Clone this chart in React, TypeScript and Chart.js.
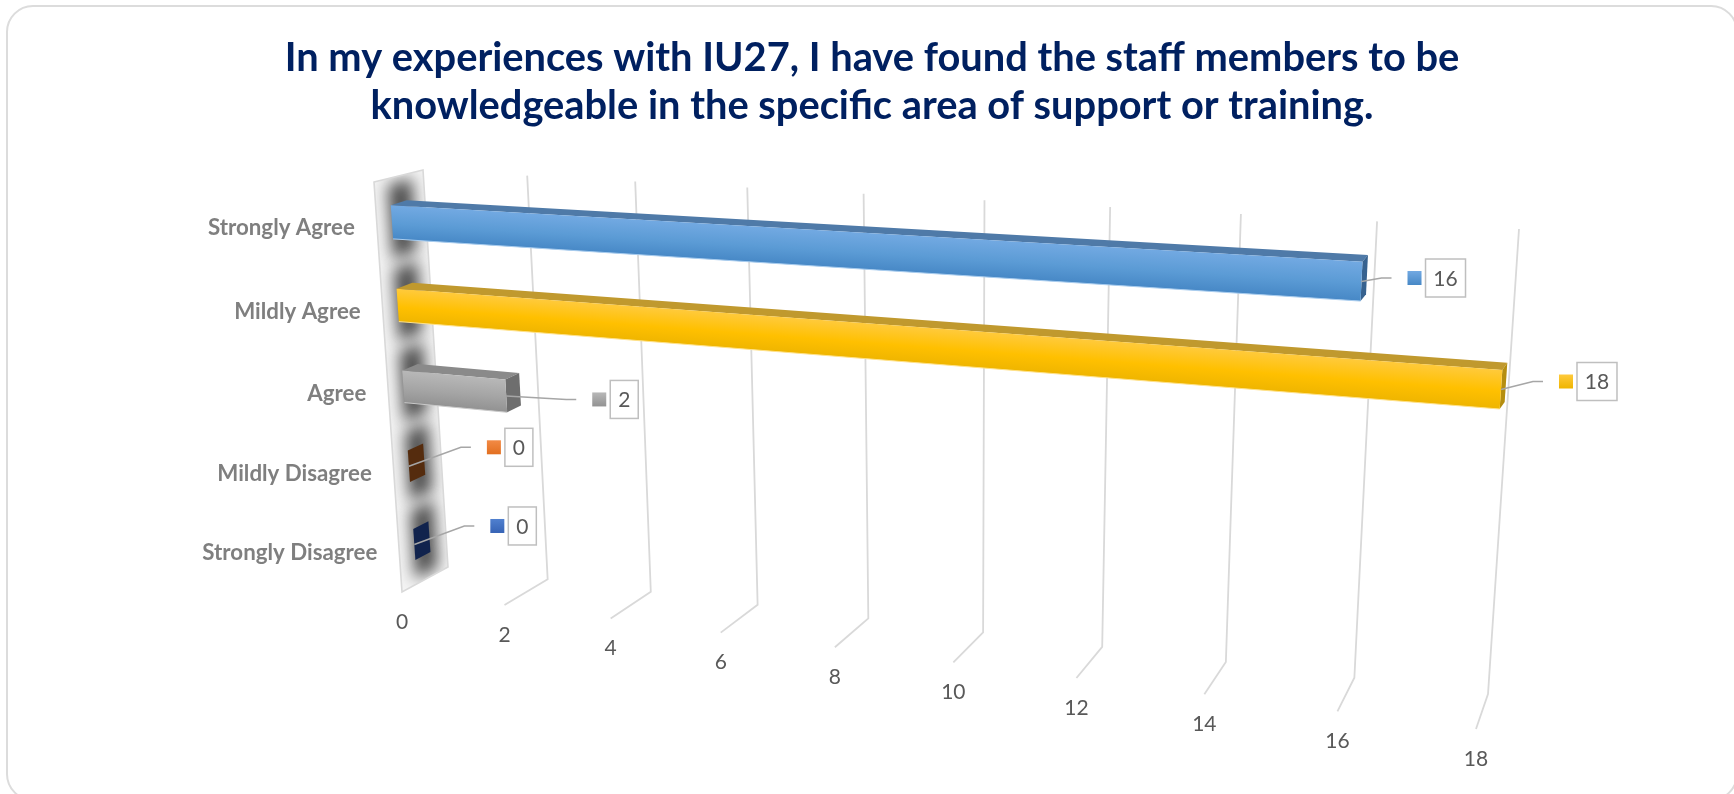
import React, { useEffect, useRef } from "react";
import { Chart, registerables } from "chart.js";

Chart.register(...registerables);

const titleLines = [
  "In my experiences with IU27, I have found the staff members to be",
  "knowledgeable in the specific area of support or training.",
];
const categories = ["Strongly Agree", "Mildly Agree", "Agree", "Mildly Disagree", "Strongly Disagree"];
const values = [16, 18, 2, 0, 0];
const seriesColors = ["#5B9BD5", "#FFC000", "#A5A5A5", "#ED7D31", "#4472C4"];
const frontTop = ["#72a9e2", "#ffca3c", "#b8b8b8", "#F28A45", "#5080CF"];
const frontBottom = ["#4788c6", "#efb500", "#929292", "#E26F20", "#3663B5"];
const edgeLights = ["#a9cdef", "#ffe28a", "#c9c9c9", "#ED7D31", "#4472C4"];
const topFaces = ["#4f7aa8", "#c0992e", "#8a8a8a", "#5a2f10", "#13254f"];
const endFaces = ["#37628f", "#b58e10", "#6e6e6e", "#552c0e", "#11234d"];
const labelOffsets = [[30, -3.5], [42, -8], [70, 3.5], [62, -19], [60, -18.5]];
const axisMax = 18;
const axisStep = 2;

type P = [number, number];
function homography(c: P[]) {
  const [[x0, y0], [x1, y1], [x2, y2], [x3, y3]] = c;
  const dx1 = x1 - x2, dx2 = x3 - x2, sx = x0 - x1 + x2 - x3;
  const dy1 = y1 - y2, dy2 = y3 - y2, sy = y0 - y1 + y2 - y3;
  const den = dx1 * dy2 - dx2 * dy1;
  const g = (sx * dy2 - dx2 * sy) / den;
  const h = (dx1 * sy - sx * dy1) / den;
  const a = x1 - x0 + g * x1, b = x3 - x0 + h * x3;
  const d = y1 - y0 + g * y1, e = y3 - y0 + h * y3;
  return (u: number, v: number): P => {
    const w = g * u + h * v + 1;
    return [(a * u + b * v + x0) / w, (d * u + e * v + y0) / w];
  };
}

// camera: where the corners of the plot box land on the page
const boxFront = homography([[374, 182], [1509, 247], [1476, 729], [402, 592]]);
const boxBack = homography([[423, 170], [1519, 229], [1488, 694], [448, 567]]);
const barFront = homography([[389, 180], [1511, 240], [1479, 718], [417, 583]]);
const barBack = homography([[405, 175], [1516, 233], [1484, 711], [432, 575]]);

function poly(ctx: CanvasRenderingContext2D, pts: P[]) {
  ctx.beginPath();
  pts.forEach((p, i) => (i ? ctx.lineTo(p[0], p[1]) : ctx.moveTo(p[0], p[1])));
  ctx.closePath();
}
const mix = (a: P, b: P, t: number): P => [a[0] + (b[0] - a[0]) * t, a[1] + (b[1] - a[1]) * t];

const perspective = {
  id: "perspective",
  beforeDraw(chart: any) {
    const ctx: CanvasRenderingContext2D = chart.ctx;
    ctx.save();
    ctx.beginPath();
    ctx.roundRect(7, 6, 1730, 794, 26);
    ctx.fillStyle = "#ffffff";
    ctx.fill();
    ctx.lineWidth = 2;
    ctx.strokeStyle = "#dcdcdc";
    ctx.stroke();
    ctx.restore();
  },
  beforeDatasetsDraw(chart: any) {
    const ctx: CanvasRenderingContext2D = chart.ctx;
    const area = chart.chartArea;
    const xs = chart.scales.x, ys = chart.scales.y;
    const U = (px: number) => (px - area.left) / (area.right - area.left);
    const V = (py: number) => (py - area.top) / (area.bottom - area.top);
    ctx.save();

    const meta = chart.getDatasetMeta(0);
    const bars = meta.data.map((el: any) => {
      const p = el.getProps(["x", "y", "base", "height"], true);
      return { u0: U(p.base), u1: U(p.x), v0: V(p.y - p.height / 2), v1: V(p.y + p.height / 2), vc: V(p.y) };
    });

    // wall at zero
    const wall: P[] = [boxFront(0, 0), boxBack(0, 0), boxBack(0, 1), boxFront(0, 1)];
    poly(ctx, wall);
    ctx.fillStyle = "#f4f4f4";
    ctx.fill();
    ctx.save();
    poly(ctx, wall);
    ctx.clip();
    ctx.filter = "blur(8px)";
    ctx.fillStyle = "#4a4a4a";
    bars.forEach((b: any) => {
      const pad = (b.v1 - b.v0) * 0.6;
      const t0 = b.v0 - pad, t1 = b.v1 + pad;
      poly(ctx, [
        mix(barFront(0, t0), barBack(0, t0), -0.1),
        mix(barFront(0, t0), barBack(0, t0), 1.4),
        mix(barFront(0, t1), barBack(0, t1), 1.4),
        mix(barFront(0, t1), barBack(0, t1), -0.1),
      ]);
      ctx.fill();
    });
    ctx.restore();
    poly(ctx, wall);
    ctx.lineWidth = 1.6;
    ctx.strokeStyle = "#d9d9d9";
    ctx.stroke();

    // grid lines and tick labels, from the value scale
    ctx.font = "21px Lato";
    ctx.textAlign = "center";
    ctx.textBaseline = "middle";
    xs.ticks.forEach((t: any) => {
      const u = U(xs.getPixelForValue(t.value));
      const foot = boxFront(u, 1);
      if (t.value !== 0) {
        const a = boxBack(u, 0), b = boxBack(u, 1);
        ctx.beginPath();
        ctx.moveTo(a[0], a[1]);
        ctx.lineTo(b[0], b[1]);
        ctx.lineTo(foot[0], foot[1]);
        ctx.lineWidth = 1.8;
        ctx.strokeStyle = "#d9d9d9";
        ctx.stroke();
      }
      ctx.fillStyle = "#595959";
      ctx.fillText(String(t.value), foot[0], foot[1] + 30);
    });

    // bars
    bars.forEach((b: any, i: number) => {
      if (b.u1 > b.u0) {
        poly(ctx, [barFront(b.u0, b.v0), barBack(b.u0, b.v0), barBack(b.u1, b.v0), barFront(b.u1, b.v0)]);
        ctx.fillStyle = topFaces[i];
        ctx.fill();
      }
      poly(ctx, [barFront(b.u1, b.v0), barBack(b.u1, b.v0), barBack(b.u1, b.v1), barFront(b.u1, b.v1)]);
      ctx.fillStyle = endFaces[i];
      ctx.fill();
      if (b.u1 > b.u0) {
        const tl = barFront(b.u0, b.v0), tr = barFront(b.u1, b.v0);
        const br = barFront(b.u1, b.v1), bl = barFront(b.u0, b.v1);
        ctx.save();
        poly(ctx, [tl, tr, br, bl]);
        ctx.clip();
        const left = Math.floor(Math.min(tl[0], bl[0])) - 1;
        const right = Math.ceil(Math.max(tr[0], br[0])) + 1;
        const column = 3;
        for (let x = left; x < right; x += column) {
          const s = (x + column / 2 - left) / (right - left);
          const yt = tl[1] + (tr[1] - tl[1]) * s;
          const yb = bl[1] + (br[1] - bl[1]) * s;
          const g = ctx.createLinearGradient(0, yt, 0, yb);
          g.addColorStop(0, frontTop[i]);
          g.addColorStop(0.55, seriesColors[i]);
          g.addColorStop(1, frontBottom[i]);
          ctx.fillStyle = g;
          ctx.fillRect(x, Math.floor(yt) - 3, column, Math.ceil(yb - yt) + 6);
        }
        ctx.restore();
        ctx.beginPath();
        ctx.moveTo(bl[0], bl[1]);
        ctx.lineTo(br[0], br[1]);
        ctx.lineWidth = 1;
        ctx.strokeStyle = edgeLights[i];
        ctx.stroke();
      }
    });

    // category labels
    ctx.font = "bold 22.3px Lato";
    ctx.textAlign = "right";
    ctx.fillStyle = "#7f7f7f";
    bars.forEach((b: any, i: number) => {
      const p = barFront(0, b.vc);
      ctx.fillText(String(ys.getLabelForValue(i)), p[0] - 37, p[1] + 5 + b.vc * 4);
    });

    // leaders and value labels
    bars.forEach((b: any, i: number) => {
      const front = barFront(b.u1, b.vc);
      const [dx, dy] = labelOffsets[i];
      const ex = front[0] + dx, ey = front[1] + dy;
      ctx.beginPath();
      ctx.moveTo(front[0], front[1]);
      ctx.lineTo(ex - 10, ey);
      ctx.lineTo(ex, ey);
      ctx.lineWidth = 1.5;
      ctx.strokeStyle = "#a6a6a6";
      ctx.stroke();
      const sx = ex + 16;
      const g = ctx.createLinearGradient(0, ey - 7, 0, ey + 7);
      g.addColorStop(0, frontTop[i]);
      g.addColorStop(1, frontBottom[i]);
      ctx.fillStyle = g;
      ctx.fillRect(sx, ey - 7, 14, 14);
      const text = String(chart.data.datasets[0].data[i]);
      const w = text.length > 1 ? 40 : 28;
      const bx = sx + 18;
      ctx.fillStyle = "#ffffff";
      ctx.fillRect(bx, ey - 19, w, 38);
      ctx.lineWidth = 1.5;
      ctx.strokeStyle = "#bfbfbf";
      ctx.strokeRect(bx, ey - 19, w, 38);
      ctx.font = "21px Lato";
      ctx.textAlign = "center";
      ctx.fillStyle = "#595959";
      ctx.fillText(text, bx + w / 2, ey + 1);
    });
    ctx.restore();
    return false;
  },
};

export default function App() {
  const ref = useRef<HTMLCanvasElement>(null);
  useEffect(() => {
    const chart = new Chart(ref.current!, {
      type: "bar",
      data: {
        labels: categories,
        datasets: [{ data: values, backgroundColor: seriesColors, barPercentage: 0.4, categoryPercentage: 1 }],
      },
      options: {
        indexAxis: "y",
        animation: false,
        responsive: false,
        events: [],
        layout: { padding: { left: 10, top: 34 } },
        scales: {
          x: { display: false, min: 0, max: axisMax, ticks: { stepSize: axisStep } },
          y: { display: false },
        },
        plugins: {
          legend: { display: false },
          tooltip: { enabled: false },
          title: {
            display: true,
            text: titleLines,
            color: "#002060",
            font: { family: "Lato", size: 39.8, weight: "bold", lineHeight: 1.206 },
            padding: 0,
          },
        },
      },
      plugins: [perspective],
    } as any);
    return () => chart.destroy();
  }, []);
  return (
    <div style={{ position: "fixed", left: 0, top: 0, width: 1734, height: 794, background: "#fff" }}>
      <canvas ref={ref} width={1734} height={794} style={{ display: "block", filter: "blur(0.4px)" }} />
    </div>
  );
}
